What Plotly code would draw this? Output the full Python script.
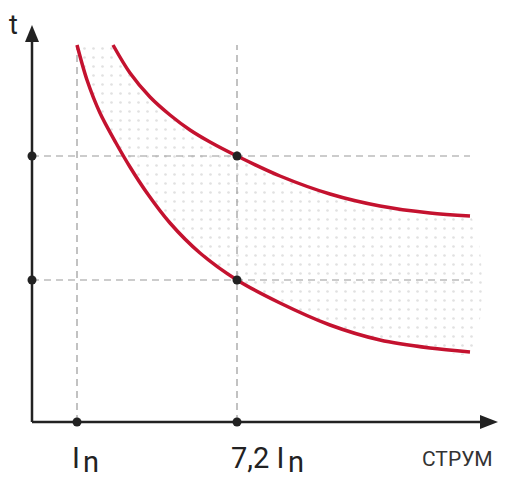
import plotly.graph_objects as go

# schematic units (1 unit ~ 1 px), origin at the axes corner
lower_x = [45, 55, 68, 84, 98, 115, 138, 168, 205, 248, 298, 348, 398, 438]
lower_t = [377, 342, 309, 279, 255, 229, 199, 169, 142, 119, 97, 82, 74, 70]
upper_x = [81, 98, 118, 138, 158, 178, 205, 248, 298, 348, 398, 438]
upper_t = [377, 349, 325, 307, 292, 280, 266, 246, 228, 216, 209, 206]

tick_x = [45, 205]           # I_n, 7,2 I_n
tick_main = ["I", "7,2 I"]
tick_sub = ["n", "n"]
mark_t = [266, 142]          # t at 7,2 I_n (upper, lower)
x_end = 438
t_top = 377
x_axis_len = 448
y_axis_len = 380

RED = "#c4122f"
DASH = "#9a9a9a"
INK = "#222222"

fig = go.Figure()

# dotted shading between the curves
fig.add_trace(go.Scatter(
    x=lower_x + upper_x[::-1], y=lower_t + upper_t[::-1],
    mode="lines", line=dict(width=0, shape="spline"), fill="toself",
    fillcolor="rgba(0,0,0,0)",
    fillpattern=dict(shape=".", size=9, solidity=0.07, fgcolor="#c4c4c4",
                     bgcolor="rgba(255,255,255,0)"),
    hoverinfo="skip", showlegend=False))

# dashed guides
for ty in mark_t:
    fig.add_trace(go.Scatter(x=[0, x_end], y=[ty, ty], mode="lines",
                             line=dict(color=DASH, width=1.2, dash="7px,5px"),
                             showlegend=False, hoverinfo="skip"))
for tx in tick_x:
    fig.add_trace(go.Scatter(x=[tx, tx], y=[0, t_top], mode="lines",
                             line=dict(color=DASH, width=1.2, dash="7px,5px"),
                             showlegend=False, hoverinfo="skip"))

# axes
fig.add_trace(go.Scatter(x=[0, x_axis_len], y=[0, 0], mode="lines",
                         line=dict(color=INK, width=2.5), showlegend=False, hoverinfo="skip"))
fig.add_trace(go.Scatter(x=[0, 0], y=[0, y_axis_len], mode="lines",
                         line=dict(color=INK, width=2.5), showlegend=False, hoverinfo="skip"))

# curves
fig.add_trace(go.Scatter(x=lower_x, y=lower_t, mode="lines",
                         line=dict(color=RED, width=3.5, shape="spline", smoothing=0.9),
                         showlegend=False))
fig.add_trace(go.Scatter(x=upper_x, y=upper_t, mode="lines",
                         line=dict(color=RED, width=3.5, shape="spline", smoothing=0.9),
                         showlegend=False))

# points
px = [0, 0, tick_x[0], tick_x[1], tick_x[1], tick_x[1]]
py = [mark_t[0], mark_t[1], 0, 0, mark_t[0], mark_t[1]]
fig.add_trace(go.Scatter(x=px, y=py, mode="markers",
                         marker=dict(color=INK, size=9), showlegend=False))

# arrowheads
fig.add_shape(type="path",
              path=f"M -7 {y_axis_len} L 7 {y_axis_len} L 0 {y_axis_len + 17} Z",
              fillcolor=INK, line=dict(width=0), layer="above")
fig.add_shape(type="path",
              path=f"M {x_axis_len} -7 L {x_axis_len} 7 L {x_axis_len + 18} 0 Z",
              fillcolor=INK, line=dict(width=0), layer="above")

FONT = "Roboto"
anns = []
# y label
anns.append(dict(x=-24, y=414, text="t", showarrow=False, xanchor="left", yanchor="top",
                 borderpad=0, font=dict(family=FONT, size=27, color=INK)))
# tick labels
anns.append(dict(x=tick_x[0] + 4, y=-36, text=tick_main[0], showarrow=False, borderpad=0,
                 xanchor="right", yanchor="middle", font=dict(family=FONT, size=29, color=INK)))
anns.append(dict(x=tick_x[1] + 48, y=-36, text=tick_main[1], showarrow=False, borderpad=0,
                 xanchor="right", yanchor="middle", font=dict(family=FONT, size=29, color=INK)))
anns.append(dict(x=tick_x[0] + 14, y=-40, text=tick_sub[0], showarrow=False, borderpad=0,
                 xanchor="center", yanchor="middle", font=dict(family=FONT, size=29, color=INK)))
anns.append(dict(x=tick_x[1] + 59, y=-40, text=tick_sub[1], showarrow=False, borderpad=0,
                 xanchor="center", yanchor="middle", font=dict(family=FONT, size=29, color=INK)))
anns.append(dict(x=425, y=-37, text="СТРУМ", showarrow=False, xanchor="center", yanchor="middle",
                 font=dict(family=FONT, size=21, color="#333333")))

# page has an 8px body margin: figure is shrunk and ranges shifted to compensate
fig.update_layout(
    width=509, height=474, margin=dict(l=0, r=0, t=0, b=0),
    paper_bgcolor="white", plot_bgcolor="white",
    xaxis=dict(range=[-24, 485], visible=False, fixedrange=True),
    yaxis=dict(range=[-60, 414], visible=False, fixedrange=True),
    annotations=anns, showlegend=False,
)

fig.write_html("out.html")
